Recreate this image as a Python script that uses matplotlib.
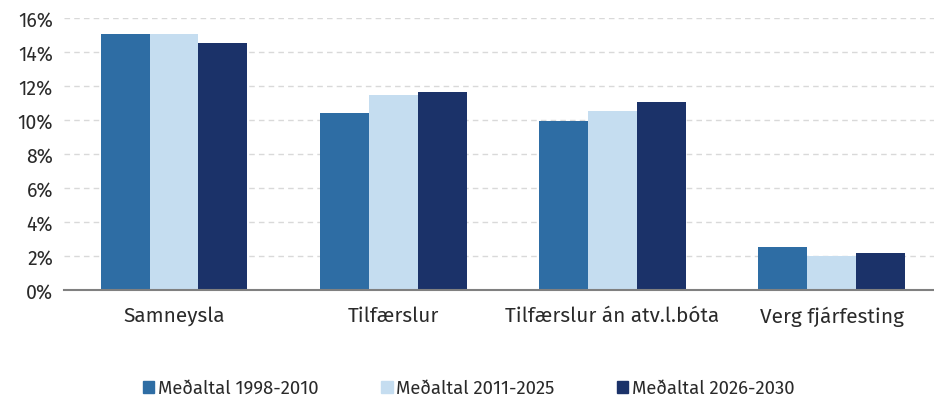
import matplotlib
matplotlib.use("Agg")
import matplotlib.pyplot as plt
import numpy as np
from matplotlib.ticker import FuncFormatter

categories = ["Samneysla", "Tilfærslur", "Tilfærslur án atv.l.bóta", "Verg fjárfesting"]
series_names = ["Meðaltal 1998-2010", "Meðaltal 2011-2025", "Meðaltal 2026-2030"]
s1 = [15.05, 10.41, 9.95, 2.51]
s2 = [15.05, 11.47, 10.53, 2.02]
s3 = [14.55, 11.62, 11.04, 2.15]
colors = ["#2E6DA4", "#C5DDF0", "#1B3269"]

plt.rcParams['font.family'] = ['Fira Sans', 'Open Sans', 'DejaVu Sans']

fig = plt.figure(figsize=(9.34, 4.02), dpi=100)
ax = fig.add_axes([64/934, 1 - 291/402, 1 - 64/934, (291 - 19)/402])

x = np.arange(len(categories))
w = 0.223
for i, (vals, c, n) in enumerate(zip([s1, s2, s3], colors, series_names)):
    ax.bar(x + (i - 1) * w, vals, width=w, color=c, label=n, zorder=3)

ax.set_xlim(-0.5016, 3.466)
ax.set_ylim(0, 16)
ax.set_yticks(np.arange(0, 17, 2))
ax.yaxis.set_major_formatter(FuncFormatter(lambda v, p: f"{int(v)}%"))
ax.set_xticks(x)
ax.set_xticklabels(categories)
ax.tick_params(axis='both', length=0, colors="#2a2a2a")
ax.tick_params(axis='x', pad=11, labelsize=15)
ax.tick_params(axis='y', pad=8, labelsize=14)
ax.grid(axis='y', color="#D9D9D9", linestyle=(0, (4, 3)), linewidth=1, zorder=0)
for sp in ['top', 'right', 'left']:
    ax.spines[sp].set_visible(False)
ax.spines['bottom'].set_color("#808080")
ax.spines['bottom'].set_linewidth(1.5)
ax.spines['bottom'].set_zorder(4)

handles = [plt.Rectangle((0, 0), 1, 1, color=c) for c in colors]
fig.legend(handles, series_names, loc='center', bbox_to_anchor=(469/934, 1 - 389/402),
           ncol=3, frameon=False, fontsize=13.3, handlelength=0.6, handleheight=0.6,
           handletextpad=0.2, columnspacing=3.4, labelcolor="#2a2a2a")

fig.savefig("out.png", dpi=100)
